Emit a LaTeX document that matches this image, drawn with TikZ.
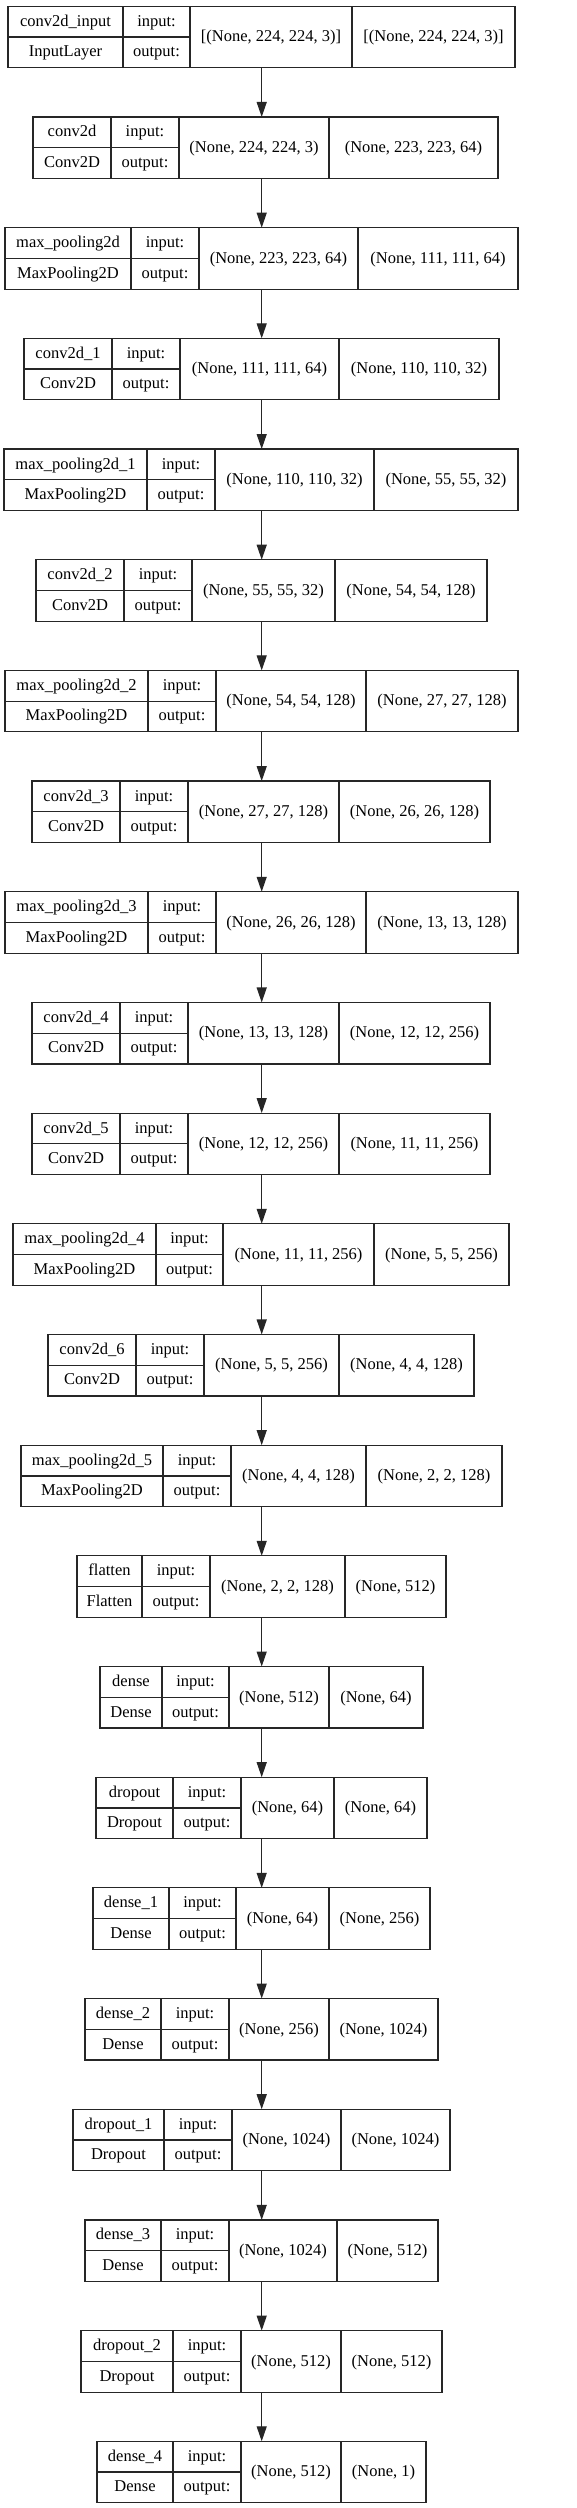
\documentclass[tikz,border=0pt]{standalone}
\usepackage{fontspec}
\setmainfont{Liberation Serif}
\usetikzlibrary{arrows.meta}
\tikzset{
  boxline/.style={line width=1.2pt, draw=black!85},
  layerbox/.style={boxline, rectangle, inner sep=0pt, outer sep=0pt},
  txt/.style={inner sep=0pt, anchor=base, font=\fontsize{16.5}{18}\selectfont},
  arr/.style={line width=1.2pt, draw=black!85, -{Triangle[length=15pt,width=10pt]}},
}
\begin{document}
\begin{tikzpicture}[x=1pt,y=-1pt]
\fill[white] (0,0) rectangle (577,2508);
\useasboundingbox (0,0) rectangle (577,2508);
\coordinate (xc) at (261.7,0);
\foreach \xl/\xa/\xb/\xd/\xr/\nm/\cl/\ii/\oo [count=\i from 0] in {
 8/123/190/352/515/conv2d\_input/InputLayer/{[(None, 224, 224, 3)]}/{[(None, 224, 224, 3)]},
 33/111/179/329/498/conv2d/Conv2D/{(None, 224, 224, 3)}/{(None, 223, 223, 64)},
 5/131/199/358/518/max\_pooling2d/MaxPooling2D/{(None, 223, 223, 64)}/{(None, 111, 111, 64)},
 24/112/180/339/499/conv2d\_1/Conv2D/{(None, 111, 111, 64)}/{(None, 110, 110, 32)},
 4/147/215/374/518/max\_pooling2d\_1/MaxPooling2D/{(None, 110, 110, 32)}/{(None, 55, 55, 32)},
 36/124/192/335/487/conv2d\_2/Conv2D/{(None, 55, 55, 32)}/{(None, 54, 54, 128)},
 5/148/216/366/518/max\_pooling2d\_2/MaxPooling2D/{(None, 54, 54, 128)}/{(None, 27, 27, 128)},
 32/120/188/339/490/conv2d\_3/Conv2D/{(None, 27, 27, 128)}/{(None, 26, 26, 128)},
 5/148/216/366/518/max\_pooling2d\_3/MaxPooling2D/{(None, 26, 26, 128)}/{(None, 13, 13, 128)},
 32/120/188/339/490/conv2d\_4/Conv2D/{(None, 13, 13, 128)}/{(None, 12, 12, 256)},
 32/120/188/339/490/conv2d\_5/Conv2D/{(None, 12, 12, 256)}/{(None, 11, 11, 256)},
 13/156/223/374/509/max\_pooling2d\_4/MaxPooling2D/{(None, 11, 11, 256)}/{(None, 5, 5, 256)},
 48/136/204/339/474/conv2d\_6/Conv2D/{(None, 5, 5, 256)}/{(None, 4, 4, 128)},
 21/163/231/366/502/max\_pooling2d\_5/MaxPooling2D/{(None, 4, 4, 128)}/{(None, 2, 2, 128)},
 77/142/210/345/446/flatten/Flatten/{(None, 2, 2, 128)}/{(None, 512)},
 100/162/229/329/423/dense/Dense/{(None, 512)}/{(None, 64)},
 96/173/241/334/427/dropout/Dropout/{(None, 64)}/{(None, 64)},
 93/169/236/329/430/dense\_1/Dense/{(None, 64)}/{(None, 256)},
 85/161/229/329/438/dense\_2/Dense/{(None, 256)}/{(None, 1024)},
 73/164/232/341/450/dropout\_1/Dropout/{(None, 1024)}/{(None, 1024)},
 85/161/229/337/438/dense\_3/Dense/{(None, 1024)}/{(None, 512)},
 81/173/241/341/442/dropout\_2/Dropout/{(None, 512)}/{(None, 512)},
 97/173/241/341/426/dense\_4/Dense/{(None, 512)}/{(None, 1)}
}{
  \pgfmathsetmacro\T{6.3+110.68*\i}
  \pgfmathsetmacro\B{\T+61.5}
  \pgfmathsetmacro\M{\T+30.75}
  \pgfmathsetmacro\W{\xr-\xl}
  \node[layerbox, draw, minimum width=\W pt, minimum height=61.5pt] (b\i) at ({(\xl+\xr)/2},\M) {};
  \draw[boxline] (\xa,\T) -- (\xa,\B);
  \draw[boxline] (\xb,\T) -- (\xb,\B);
  \draw[boxline] (\xd,\T) -- (\xd,\B);
  \draw[boxline] (\xl,\M) -- (\xb,\M);
  \node[txt] at ({(\xl+\xa)/2},\T+20) {\nm};
  \node[txt] at ({(\xl+\xa)/2},\T+50.5) {\cl};
  \node[txt] at ({(\xa+\xb)/2},\T+20) {input:};
  \node[txt] at ({(\xa+\xb)/2},\T+50.5) {output:};
  \node[txt] at ({(\xb+\xd)/2},\T+35.5) {\ii};
  \node[txt] at ({(\xd+\xr)/2},\T+35.5) {\oo};
}
\foreach \i [evaluate=\i as \j using int(\i+1)] in {0,...,21}{
  \draw[arr] (b\i.south -| xc) -- (b\j.north -| xc);
}
\end{tikzpicture}
\end{document}
